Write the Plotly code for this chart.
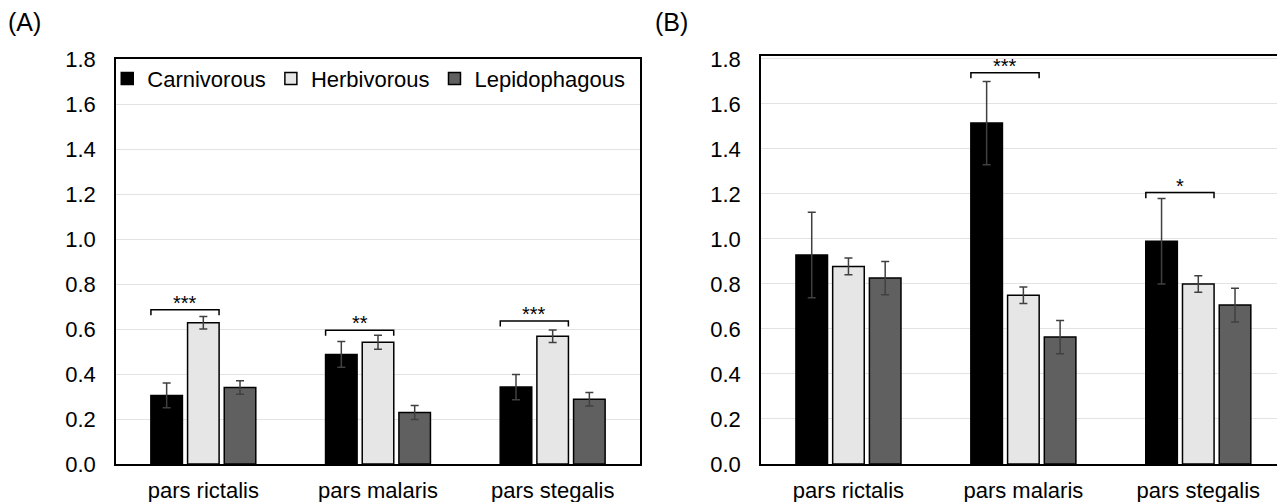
import plotly.graph_objects as go

categories = ["pars rictalis", "pars malaris", "pars stegalis"]
groups = ["Carnivorous", "Herbivorous", "Lepidophagous"]

# Panel A
a_carn = [0.305, 0.487, 0.342]
a_carn_err = [0.055, 0.057, 0.056]
a_herb = [0.628, 0.541, 0.568]
a_herb_err = [0.028, 0.031, 0.028]
a_lepi = [0.340, 0.229, 0.288]
a_lepi_err = [0.030, 0.031, 0.030]

# Panel B
b_carn = [0.929, 1.515, 0.990]
b_carn_err = [0.190, 0.185, 0.190]
b_herb = [0.878, 0.750, 0.800]
b_herb_err = [0.037, 0.037, 0.037]
b_lepi = [0.826, 0.564, 0.706]
b_lepi_err = [0.074, 0.074, 0.075]

# significance brackets: (category index, level, label)
a_sig = [(0, 0.686, "***"), (1, 0.595, "**"), (2, 0.636, "***")]
b_sig = [(1, 1.739, "***"), (2, 1.206, "*")]

y_ticks = [0.0, 0.2, 0.4, 0.6, 0.8, 1.0, 1.2, 1.4, 1.6, 1.8]

colors = ["#000000", "#e7e6e6", "#606060"]
FONT = "Liberation Sans, Arial, sans-serif"

fig = go.Figure()

panels = [
    ("x", "y", [a_carn, a_herb, a_lepi], [a_carn_err, a_herb_err, a_lepi_err], True),
    ("x2", "y2", [b_carn, b_herb, b_lepi], [b_carn_err, b_herb_err, b_lepi_err], False),
]
for xa, ya, vals, errs, show in panels:
    for g, v, e, c in zip(groups, vals, errs, colors):
        fig.add_trace(go.Bar(
            x=categories, y=v, name=g, xaxis=xa, yaxis=ya,
            marker=dict(color=c, line=dict(color="#000000", width=1.5)),
            error_y=dict(type="data", array=e, visible=True, color="#404040",
                         thickness=1.5, width=4),
            showlegend=show, legendgroup=g,
        ))

H = 502
y_dom = [38 / H, 443 / H]
fig.update_layout(
    width=1277, height=502,
    margin=dict(l=0, r=0, t=0, b=0),
    paper_bgcolor="white", plot_bgcolor="white",
    barmode="group", bargap=0.37, bargroupgap=0.14,
    font=dict(family=FONT, size=22, color="#000000"),
    legend=dict(orientation="h", x=0.084, y=0.843, xanchor="left", yanchor="middle",
                font=dict(size=22), bgcolor="rgba(0,0,0,0)", itemwidth=30,
                traceorder="normal", tracegroupgap=0),
    xaxis=dict(domain=[116 / 1277, 640 / 1277], showline=True, mirror=True,
               linecolor="#000000", linewidth=1.5, ticks="", anchor="y",
               tickfont=dict(size=22), automargin=False, ticklabelstandoff=6),
    yaxis=dict(domain=y_dom, range=[0, 1.8], tickvals=y_ticks,
               ticktext=[f"{t:.1f}" for t in y_ticks], showline=True, mirror=True,
               linecolor="#000000", linewidth=1.5, showgrid=True, gridcolor="#e3e3e3",
               gridwidth=1, zeroline=False, anchor="x", automargin=False,
               tickfont=dict(size=22), ticklabelstandoff=14),
    xaxis2=dict(domain=[761 / 1277, 1.0], range=[-0.5, 2.45], showline=True,
                mirror=True, linecolor="#000000", linewidth=1.5, ticks="",
                anchor="y2", tickfont=dict(size=22), automargin=False,
                ticklabelstandoff=6),
    yaxis2=dict(domain=[38 / H, 446 / H], range=[0, 1.813], tickvals=y_ticks,
                ticktext=[f"{t:.1f}" for t in y_ticks], showline=True, mirror=False,
                linecolor="#000000", linewidth=1.5, showgrid=True, gridcolor="#e3e3e3",
                gridwidth=1, zeroline=False, anchor="x2", automargin=False,
                tickfont=dict(size=22), ticklabelstandoff=14),
)

# significance brackets
left_off, right_off = -0.30, 0.09
for sigs, xr, yr in [(a_sig, "x", "y"), (b_sig, "x2", "y2")]:
    for i, lvl, lab in sigs:
        x0, x1 = i + left_off, i + right_off
        fig.add_shape(type="path",
                      path=f"M {x0} {lvl - 0.025} L {x0} {lvl} L {x1} {lvl} L {x1} {lvl - 0.025}",
                      xref=xr, yref=yr, line=dict(color="#000000", width=1.5))
        fig.add_annotation(x=(x0 + x1) / 2, y=lvl, xref=xr, yref=yr, text=lab,
                           showarrow=False, yanchor="bottom", yshift=-6,
                           font=dict(size=20, color="#000000"))

for label, px in [("(A)", 6), ("(B)", 653)]:
    fig.add_annotation(x=px / 1277, y=1 - 22 / H, xref="paper", yref="paper",
                       text=label, showarrow=False, xanchor="left", yanchor="middle",
                       font=dict(size=25))

fig.write_html("out.html")
